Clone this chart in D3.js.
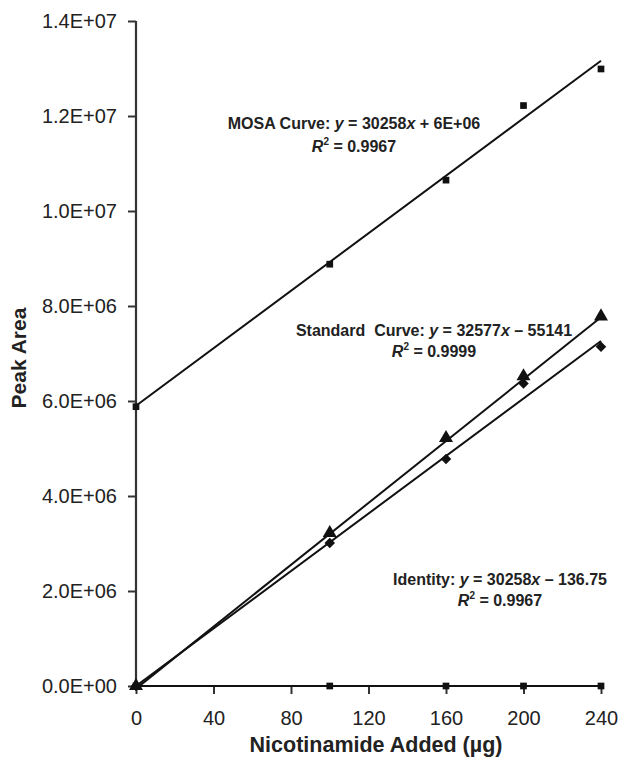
<!DOCTYPE html>
<html>
<head>
<meta charset="utf-8">
<script src="https://cdn.jsdelivr.net/npm/d3@7"></script>
<style>
  body { margin: 0; background: #fff; }
  text { font-family: Arial, "Liberation Sans", sans-serif; fill: #222; }
</style>
</head>
<body>
<svg id="chart" width="620" height="759"></svg>
<script>
// data
var xValues = [0, 100, 160, 200, 240];
var mosaValues = [5.88e6, 8.88e6, 10.65e6, 12.22e6, 12.99e6];
var standardValues = [0, 3.22e6, 5.22e6, 6.52e6, 7.78e6];
var identityValues = [0, 3.01e6, 4.78e6, 6.37e6, 7.14e6];
var blankValues = [0, 0, 0, 0, 0];

// trend lines [slope, intercept]
var mosaFit = [30258, 5.9e6];
var standardFit = [32577, -55141];
var identityFit = [30258, -136.75];
var blankFit = [0, 0];

var xTicks = [0, 40, 80, 120, 160, 200, 240];
var yTicks = [0, 2e6, 4e6, 6e6, 8e6, 1e7, 1.2e7, 1.4e7];
var yTickLabels = ["0.0E+00", "2.0E+06", "4.0E+06", "6.0E+06", "8.0E+06", "1.0E+07", "1.2E+07", "1.4E+07"];

var svg = d3.select("#chart");
var margin = {left: 136, top: 21, right: 19, bottom: 73};
var width = 620 - margin.left - margin.right,
    height = 759 - margin.top - margin.bottom;

var x = d3.scaleLinear().domain([0, 240]).range([0, width]);
var y = d3.scaleLinear().domain([0, 1.4e7]).range([height, 0]);

var g = svg.append("g").attr("transform", "translate(" + margin.left + "," + margin.top + ")");

// axes
var xAxis = g.append("g")
  .attr("transform", "translate(0," + height + ")")
  .call(d3.axisBottom(x).tickValues(xTicks).tickSize(8).tickPadding(17));
var yAxis = g.append("g")
  .call(d3.axisLeft(y).tickValues(yTicks).tickSize(8).tickPadding(11)
    .tickFormat(function (d, i) { return yTickLabels[i]; }));

[xAxis, yAxis].forEach(function (a) {
  a.select(".domain").attr("stroke", "#333").attr("stroke-width", 2.2);
  a.selectAll(".tick line").attr("stroke", "#333").attr("stroke-width", 2);
  a.selectAll(".tick text").attr("font-size", 20).attr("fill", "#333")
    .attr("font-family", "Arial, 'Liberation Sans', sans-serif");
});
xAxis.select(".domain").attr("d", "M0,0H" + width);
yAxis.select(".domain").attr("d", "M0," + height + "V0");

// trend lines
var fits = [mosaFit, standardFit, identityFit, blankFit];
g.append("g").selectAll("line")
  .data(fits)
  .enter().append("line")
  .attr("x1", x(0))
  .attr("x2", x(240))
  .attr("y1", function (d) { return y(d[1]); })
  .attr("y2", function (d) { return y(d[0] * 240 + d[1]); })
  .attr("stroke", "#111")
  .attr("stroke-width", 2);

// markers (diamond = square turned 45 degrees)
var series = [
  {values: mosaValues, symbol: d3.symbolSquare, size: 45, rot: 0},
  {values: standardValues, symbol: d3.symbolTriangle, size: 85, rot: 0},
  {values: identityValues, symbol: d3.symbolSquare, size: 55, rot: 45},
  {values: blankValues, symbol: d3.symbolSquare, size: 45, rot: 0}
];
series.forEach(function (s) {
  g.append("g").selectAll("path")
    .data(s.values)
    .enter().append("path")
    .attr("d", d3.symbol().type(s.symbol).size(s.size))
    .attr("transform", function (d, i) {
      return "translate(" + x(xValues[i]) + "," + y(d) + ") rotate(" + s.rot + ")";
    })
    .attr("fill", "#111");
});

// equation labels
function equation(cx, cy, gap, name, eq, r2) {
  var t = svg.append("text")
    .attr("x", cx).attr("y", cy)
    .attr("text-anchor", "middle")
    .attr("font-size", 16).attr("font-weight", "bold");
  t.append("tspan").text(name + " ");
  t.append("tspan").attr("font-style", "italic").text("y");
  t.append("tspan").text(" = " + eq[0]);
  t.append("tspan").attr("font-style", "italic").text("x");
  t.append("tspan").text(eq[1]);
  var r = svg.append("text")
    .attr("x", cx).attr("y", cy + gap)
    .attr("text-anchor", "middle")
    .attr("font-size", 16).attr("font-weight", "bold");
  r.append("tspan").attr("font-style", "italic").text("R");
  r.append("tspan").attr("font-size", 10).attr("dy", -7).text("2");
  r.append("tspan").attr("dy", 7).text(" = " + r2);
}
equation(354, 129, 23, "MOSA Curve:", ["30258", " + 6E+06"], "0.9967");
equation(434, 336, 21, "Standard\u00a0 Curve:", ["32577", " \u2013 55141"], "0.9999");
equation(500, 585, 21, "Identity:", ["30258", " \u2013  136.75"], "0.9967");

// axis titles
svg.append("text")
  .attr("x", 376).attr("y", 752)
  .attr("text-anchor", "middle")
  .attr("font-size", 21.5).attr("font-weight", "bold")
  .text("Nicotinamide Added (\u00b5g)");
svg.append("text")
  .attr("transform", "translate(26,358) rotate(-90)")
  .attr("text-anchor", "middle")
  .attr("font-size", 21).attr("font-weight", "bold")
  .text("Peak Area");
</script>
</body>
</html>
